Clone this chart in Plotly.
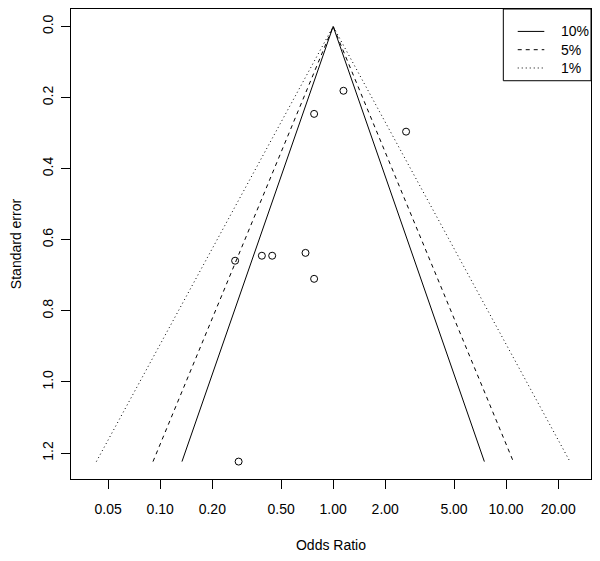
import plotly.graph_objects as go
from statistics import NormalDist
import math

# Study data (odds ratios and standard errors)
odds_ratio = [1.147, 0.776, 2.64, 0.271, 0.387, 0.444, 0.692, 0.776, 0.284]
std_error = [0.181, 0.246, 0.296, 0.659, 0.645, 0.645, 0.637, 0.710, 1.224]

# Contour levels
contour_levels = [0.90, 0.95, 0.99]
contour_labels = ["10%", "5%", "1%"]
contour_dash = ["solid", "4px,4px", "1px,3px"]

x_tickvals = [0.05, 0.10, 0.20, 0.50, 1.00, 2.00, 5.00, 10.00, 20.00]
x_ticktext = ["0.05", "0.10", "0.20", "0.50", "1.00", "2.00", "5.00", "10.00", "20.00"]
y_tickvals = [0.0, 0.2, 0.4, 0.6, 0.8, 1.0, 1.2]
y_ticktext = ["0.0", "0.2", "0.4", "0.6", "0.8", "1.0", "1.2"]

FONT = "Liberation Sans, Arial, sans-serif"

se_max = max(std_error)
fig = go.Figure()
for lev, lab, dash in zip(contour_levels, contour_labels, contour_dash):
    z = NormalDist().inv_cdf(1 - (1 - lev) / 2)
    xs = [math.exp(-z * se_max), 1.0, math.exp(z * se_max)]
    ys = [se_max, 0.0, se_max]
    fig.add_trace(go.Scatter(x=xs, y=ys, mode="lines", name=lab, showlegend=False,
                             line=dict(color="black", width=1, dash=dash)))

fig.add_trace(go.Scatter(x=odds_ratio, y=std_error, mode="markers", showlegend=False,
                         marker=dict(symbol="circle-open", size=7, color="black",
                                     line=dict(width=1, color="black"))))

# Custom legend box (R style) in paper coordinates
shapes = [dict(type="rect", xref="paper", yref="paper", x0=0.8314, x1=1.0, y0=0.8474, y1=1.0,
               line=dict(color="black", width=1), fillcolor="white", layer="above")]
annotations = []
row_y = [0.9523, 0.9134, 0.8745]
for lab, dash, yy in zip(contour_labels, contour_dash, row_y):
    shapes.append(dict(type="line", xref="paper", yref="paper", x0=0.8591, x1=0.9102,
                       y0=yy, y1=yy, line=dict(color="black", width=1, dash=dash), layer="above"))
    annotations.append(dict(text=lab, xref="paper", yref="paper", x=0.9385, y=yy,
                            xanchor="left", yanchor="middle", showarrow=False,
                            font=dict(size=14, color="black")))

fig.update_layout(
    width=584, height=545,
    margin=dict(l=63, r=1, t=1, b=74, pad=0),
    paper_bgcolor="white", plot_bgcolor="white",
    font=dict(family=FONT, size=14, color="black"),
    showlegend=False,
    shapes=shapes, annotations=annotations,
)
fig.update_xaxes(type="log", range=[-1.516, 1.491],
                 tickvals=x_tickvals, ticktext=x_ticktext,
                 ticks="outside", ticklen=9, tickcolor="black",
                 showline=True, linecolor="black", linewidth=1, mirror=True,
                 showgrid=False, zeroline=False, ticklabelstandoff=8,
                 title=dict(text="Odds Ratio", standoff=24, font=dict(size=14)))
fig.update_yaxes(range=[1.273, -0.049],
                 tickvals=y_tickvals, ticktext=y_ticktext, tickangle=-90,
                 ticks="outside", ticklen=9, tickcolor="black",
                 showline=True, linecolor="black", linewidth=1, mirror=True,
                 showgrid=False, zeroline=False, ticklabelstandoff=2,
                 title=dict(text="Standard error", standoff=17, font=dict(size=14)))

fig.write_html("out.html")
